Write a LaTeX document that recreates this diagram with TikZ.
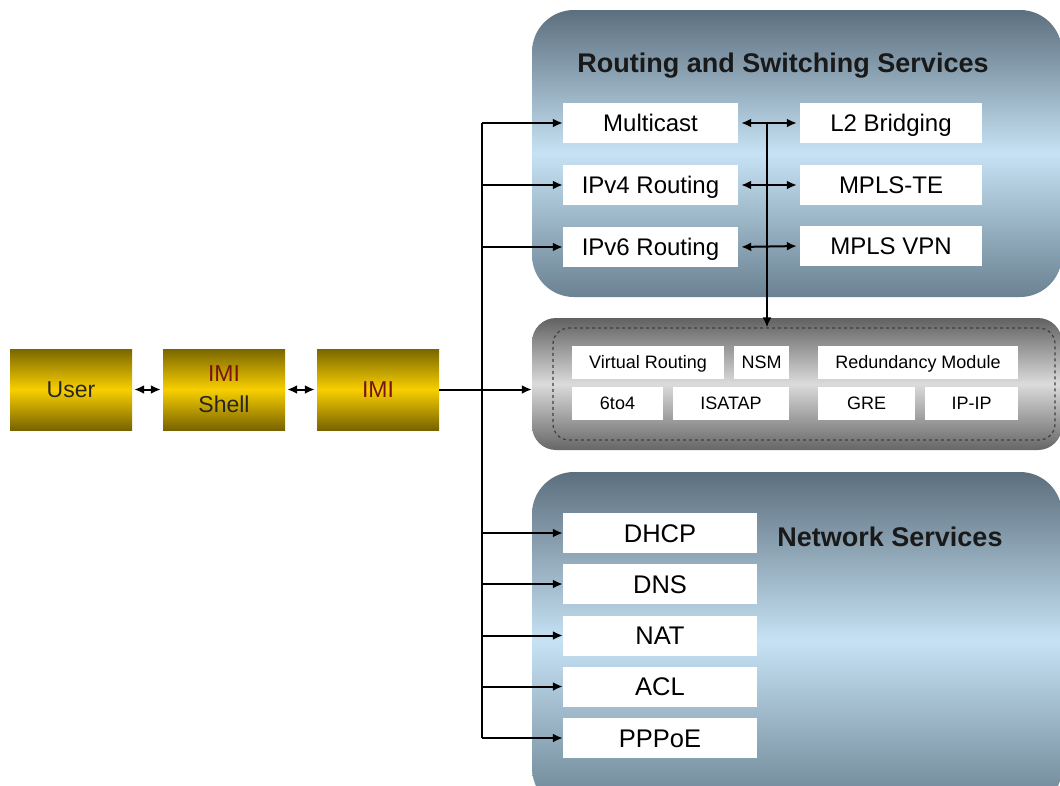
\documentclass[tikz,border=0pt]{standalone}
\usepackage{fontspec}
\setmainfont{Liberation Sans}
\usetikzlibrary{arrows.meta,calc}
\definecolor{slatetop}{HTML}{5C6F7E}
\definecolor{slatemid}{HTML}{C6E2F4}
\definecolor{slatebot}{HTML}{6A8292}
\definecolor{goldtop}{HTML}{7A6600}
\definecolor{goldmid}{HTML}{F8CF00}
\definecolor{goldbot}{HTML}{786300}
\definecolor{imired}{HTML}{7A1414}
\begin{document}
\begin{tikzpicture}[x=1pt,y=-1pt,
  panel/.style={rounded corners=42, top color=slatetop, bottom color=slatebot, middle color=slatemid, inner sep=0},
  greypanel/.style={rounded corners=24, top color=black!62, bottom color=black!60, middle color=black!14, inner sep=0},
  svc/.style={fill=white, minimum width=#1, minimum height=40, inner sep=0, text height=17.2pt, text depth=0pt, font=\fontsize{24}{26}\selectfont},
  nsvc/.style={fill=white, minimum width=194, minimum height=40, inner sep=0, text height=18.3pt, text depth=0pt, font=\fontsize{25.5}{27}\selectfont},
  mod/.style={fill=white, minimum width=#1, minimum height=33, inner sep=0, text height=12.9pt, text depth=0pt, font=\fontsize{18}{20}\selectfont},
  gold/.style={top color=goldtop, bottom color=goldbot, middle color=goldmid, minimum width=122, minimum height=81, inner sep=0, font=\fontsize{23}{24}\selectfont, align=center},
  ttl/.style={font=\bfseries\fontsize{27}{29}\selectfont, text=black!90},
  arr/.style={line width=2pt, -{Latex[length=10pt,width=9pt]}},
  darr/.style={line width=2pt, {Latex[length=10pt,width=9pt]}-{Latex[length=10pt,width=9pt]}},
  bus/.style={line width=2pt}
]
\useasboundingbox (0,0) rectangle (1060,785);
\clip (0,0) rectangle (1060,785);

% panels
\node[panel, minimum width=530, minimum height=287] (rs) at (797,153.5) {};
\node[greypanel, minimum width=530, minimum height=132] (mid) at (797,384) {};
\node[panel, minimum width=530, minimum height=338] (ns) at (797,641) {};
\node[draw=black!75, dashed, line width=1.2pt, rounded corners=16, minimum width=502, minimum height=112, inner sep=0] (dz) at (804,384) {};

% titles
\node[ttl] (rstitle) at (783,66) {Routing and Switching Services};
\node[ttl] (nstitle) at (890,537) {Network Services};

% routing & switching boxes
\node[svc=175] (mc) at (650.5,123) {Multicast};
\node[svc=182] (l2) at (891,123) {L2 Bridging};
\node[svc=175] (v4) at (650.5,185) {IPv4 Routing};
\node[svc=182] (te) at (891,185) {MPLS-TE};
\node[svc=175] (v6) at (650.5,247) {IPv6 Routing};
\node[svc=182] (vpn) at (891,246) {MPLS VPN};

% middle modules
\node[mod=152] (vr) at (648,362.5) {Virtual Routing};
\node[mod=55] (nsm) at (761.5,362.5) {NSM};
\node[mod=200] (red) at (918,362.5) {Redundancy Module};
\node[mod=91] (sixto) at (617.5,403.5) {6to4};
\node[mod=116] (isa) at (731,403.5) {ISATAP};
\node[mod=97] (gre) at (866.5,403.5) {GRE};
\node[mod=93] (ipip) at (971.5,403.5) {IP-IP};

% network services boxes
\node[nsvc] (dhcp) at (660,533) {DHCP};
\node[nsvc] (dns) at (660,584) {DNS};
\node[nsvc] (nat) at (660,635.5) {NAT};
\node[nsvc] (acl) at (660,686.5) {ACL};
\node[nsvc] (pppoe) at (660,738) {PPPoE};

% gold boxes
\node[gold, text=black!85] (user) at (71,389.5) {User};
\node[gold] (shell) at (224,389.5) {\textcolor{imired}{IMI}\\[7pt]\textcolor{black!85}{Shell}};
\node[gold, text=imired] (imi) at (378,389.5) {IMI};

% connectors
\draw[darr, shorten <=2pt, shorten >=2pt] (user) -- (shell);
\draw[darr, shorten <=2pt, shorten >=2pt] (shell) -- (imi);
\draw[arr] (imi.east) -- (imi.east -| mid.west);

\coordinate (busx) at (482,0);
\draw[bus] (busx |- mc.west) -- (busx |- pppoe.west);
\foreach \n in {mc,v4,v6,dhcp,dns,nat,acl,pppoe}
  \draw[arr] (busx |- \n.west) -- (\n.west);

\draw[darr, shorten <=3pt, shorten >=3pt] (mc.east) -- (l2.west);
\draw[darr, shorten <=3pt, shorten >=3pt] (v4.east) -- (te.west);
\draw[darr, shorten <=3pt, shorten >=3pt] (v6.east) -- (vpn.west);

\coordinate (jx) at (767,123);
\draw[arr] (jx) -- (jx |- dz.north);
\end{tikzpicture}
\end{document}
